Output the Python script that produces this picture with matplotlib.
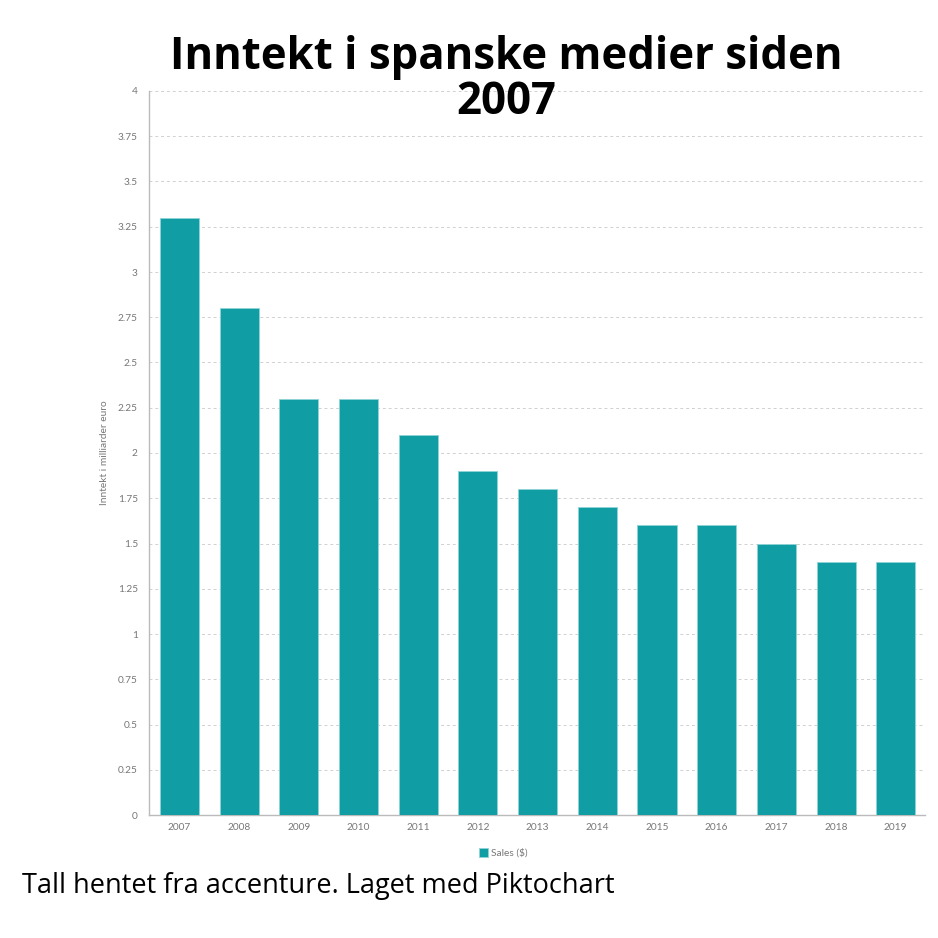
import matplotlib
matplotlib.use("Agg")
import matplotlib.pyplot as plt

years = ["2007", "2008", "2009", "2010", "2011", "2012", "2013", "2014", "2015", "2016", "2017", "2018", "2019"]
sales = [3.3, 2.8, 2.3, 2.3, 2.1, 1.9, 1.8, 1.7, 1.6, 1.6, 1.5, 1.4, 1.4]
yticks = [0, 0.25, 0.5, 0.75, 1, 1.25, 1.5, 1.75, 2, 2.25, 2.5, 2.75, 3, 3.25, 3.5, 3.75, 4]
ytick_labels = ["0", "0.25", "0.5", "0.75", "1", "1.25", "1.5", "1.75", "2", "2.25", "2.5", "2.75", "3", "3.25", "3.5", "3.75", "4"]

teal = "#119DA4"
grey = "#777777"

fig = plt.figure(figsize=(9.38, 9.38), dpi=100)
ax = fig.add_axes([149/938, 1 - 815/938, (925-149)/938, (815-91)/938])

x = list(range(len(years)))
ax.bar(x, sales, width=0.655, color=teal, edgecolor="#8fd3d6", linewidth=0.6, zorder=3, label="Sales ($)")
ax.set_xlim(-0.51, len(years) - 0.51)
ax.set_ylim(0, 4)
ax.set_yticks(yticks)
ax.set_yticklabels(ytick_labels, fontfamily="Lato", fontsize=7.3, color=grey)
ax.set_xticks(x)
ax.set_xticklabels(years, fontfamily="Lato", fontsize=7.3, color=grey)
ax.tick_params(axis="both", length=0, pad=8)
ax.tick_params(axis="x", pad=6)
ax.grid(axis="y", color="#d0d0d0", linestyle=(0, (3, 3)), linewidth=0.7, zorder=0)
for s in ["top", "right"]:
    ax.spines[s].set_visible(False)
for s in ["left", "bottom"]:
    ax.spines[s].set_color("#bbbbbb")
    ax.spines[s].set_linewidth(1)
ax.set_ylabel("Inntekt i milliarder euro", fontfamily="Lato", fontsize=7.3, color=grey, labelpad=6)

leg = fig.legend(loc="center", bbox_to_anchor=(0.537, 1 - 853/938), frameon=False,
                 prop={"family": "Lato", "size": 7.3}, handlelength=0.9, handleheight=0.9, handletextpad=0.3)
for t in leg.get_texts():
    t.set_color(grey)

fig.text(0.540, 1 - 80/938, "Inntekt i spanske medier siden\n2007", ha="center", va="center",
         fontfamily="Open Sans", fontweight="bold", fontsize=31.5, linespacing=1.0)
fig.text(22/938, 1 - 886/938, "Tall hentet fra accenture. Laget med Piktochart", ha="left", va="center",
         fontfamily="Open Sans", fontsize=19.5)

fig.savefig("out.png", dpi=100, facecolor="white")
